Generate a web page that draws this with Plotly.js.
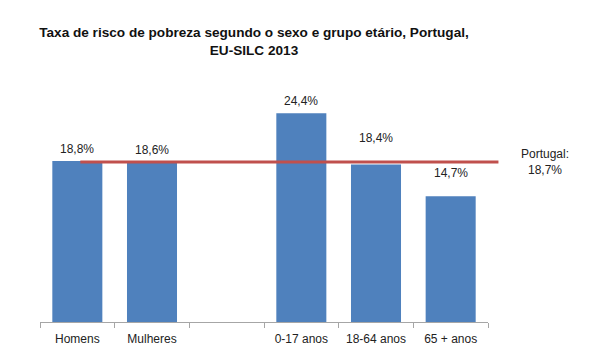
<!DOCTYPE html>
<html>
<head>
<meta charset="utf-8">
<script src="https://cdn.plot.ly/plotly-3.0.1.min.js"></script>
<style>html,body{margin:0;padding:0;background:#fff;}#chart{width:610px;height:362px;}</style>
</head>
<body>
<div id="chart"></div>
<script>
const categories = ["Homens", "Mulheres", " ", "0-17 anos", "18-64 anos", "65 + anos"];
const values = [18.8, 18.6, null, 24.4, 18.4, 14.7];
const portugalValue = 18.7;
const portugalLineX = [0.04, 5.64];
const portugalLabel = "Portugal:<br>18,7%";
const labelShift = [3.5, 3.5, 0, 3.5, 17.5, 14.5];

const fmt = v => v.toFixed(1).replace(".", ",") + "%";
const FONT = "Liberation Sans, Arial, sans-serif";

const bars = {
  type: "bar",
  x: categories,
  y: values,
  marker: {color: "#4F81BD"},
  width: 0.67,
  hoverinfo: "skip"
};

const line = {
  type: "scatter",
  mode: "lines",
  x: portugalLineX,
  y: portugalLineX.map(() => portugalValue),
  xaxis: "x2",
  yaxis: "y2",
  line: {color: "#C0504D", width: 3},
  hoverinfo: "skip"
};

const plotW = 470, catW = 448 / 6;
const dom1 = 448 / plotW;

const annotations = [];
categories.forEach((c, i) => {
  if (values[i] == null) return;
  annotations.push({
    xref: "x", yref: "y", x: c, y: values[i],
    text: fmt(values[i]), showarrow: false,
    xanchor: "center", yanchor: "bottom", yshift: labelShift[i],
    font: {family: FONT, size: 12, color: "#222"}
  });
});
annotations.push({
  xref: "paper", yref: "y",
  x: (545 - 40) / plotW, y: portugalValue,
  text: portugalLabel, showarrow: false,
  xanchor: "center", yanchor: "middle",
  font: {family: FONT, size: 12, color: "#222"}
});

const layout = {
  width: 610, height: 362,
  margin: {l: 40, r: 610 - 40 - plotW, t: 70, b: 40},
  paper_bgcolor: "#fff", plot_bgcolor: "rgba(0,0,0,0)",
  showlegend: false,
  title: {
    text: "<b>Taxa de risco de pobreza segundo o sexo e grupo etário, Portugal,<br>EU-SILC 2013</b>",
    font: {family: FONT, size: 13.6, color: "#111"},
    x: 254 / 610, xanchor: "center", xref: "container",
    y: 1 - 37 / 362, yanchor: "top", yref: "container"
  },
  xaxis: {
    type: "category",
    domain: [0, dom1],
    range: [-0.5, 5.5],
    showline: true, linecolor: "#A6A6A6", linewidth: 1,
    ticks: "outside", tickson: "boundaries", ticklen: 5, tickcolor: "#A6A6A6",
    ticklabelstandoff: 6,
    tickfont: {family: FONT, size: 12, color: "#222"},
    showgrid: false, zeroline: false, fixedrange: true
  },
  xaxis2: {
    type: "linear", anchor: "y2", domain: [0, 1],
    range: [-0.5, -0.5 + plotW / catW], visible: false, fixedrange: true
  },
  yaxis: {
    range: [0, 29.44], visible: false, showgrid: false, zeroline: false, fixedrange: true
  },
  yaxis2: {
    anchor: "x2", range: [0, 29.44], visible: false, fixedrange: true
  },
  annotations: annotations
};

Plotly.newPlot("chart", [bars, line], layout, {displayModeBar: false, staticPlot: true});
</script>
</body>
</html>
